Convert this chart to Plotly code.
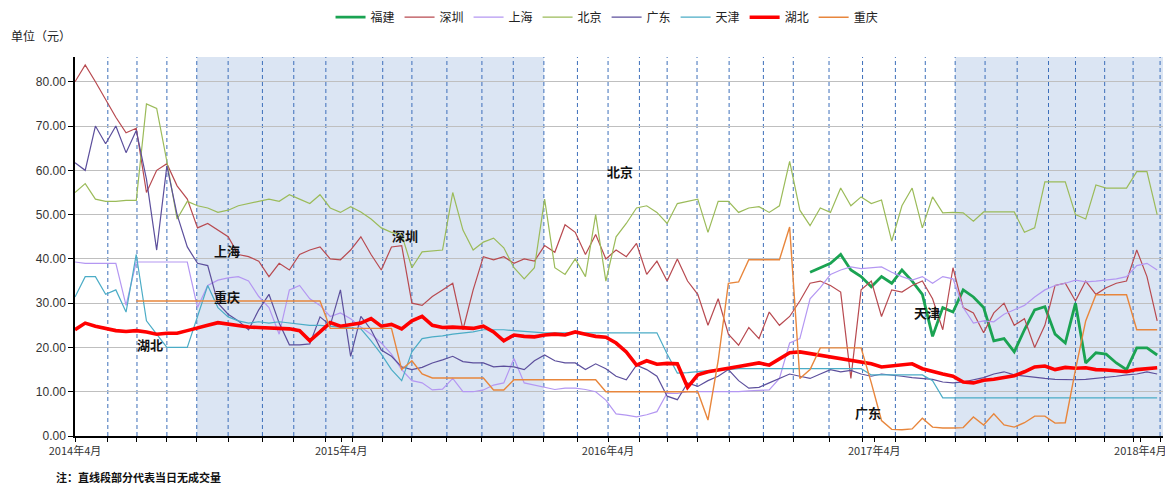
import pandas as pd
import plotly.graph_objects as go

# ---------------- data (14-day sampling) ----------------
START = "2014-04-01"
N_POINTS = 107
dates = pd.date_range(START, periods=N_POINTS, freq="14D")

fujian = [None] * 72 + [
    37.0, 38.0, 39.0, 41.0, 37.5, 36.0, 33.7, 36.0, 34.5, 37.5, 35.0, 32.0, 22.5, 29.0,
    28.0, 33.0, 31.4, 29.0, 21.5, 22.0, 19.0, 24.0, 28.5, 29.2, 23.0, 21.0, 30.0, 16.5,
    18.8, 18.5, 16.5, 15.0, 19.9, 19.9, 18.3]

shenzhen = [
    80.0, 83.8, 80.0, 76.0, 72.0, 68.5, 69.5, 55.0, 60.0, 61.5, 56.5, 53.5, 47.0, 48.0,
    46.5, 45.0, 41.0, 40.5, 39.5, 36.0, 39.0, 37.5, 41.0, 42.0, 42.7, 40.0, 39.8, 42.0,
    45.0, 41.0, 37.5, 42.7, 43.0, 30.0, 29.5, 31.5, 33.0, 34.5, 24.0, 33.0, 40.5, 39.8,
    40.5, 39.0, 40.0, 39.5, 43.0, 41.5, 47.7, 46.0, 41.0, 45.5, 40.0, 42.0, 40.5, 43.5,
    36.5, 39.5, 35.0, 40.0, 35.0, 32.0, 25.0, 31.0, 23.0, 20.5, 24.5, 22.0, 28.0, 25.0,
    27.0, 30.5, 34.5, 35.0, 34.0, 32.5, 13.0, 33.0, 35.0, 27.0, 33.0, 32.5, 34.0, 35.0,
    31.0, 24.0, 38.0, 29.0, 27.8, 23.3, 27.8, 30.0, 25.0, 26.5, 20.0, 25.0, 34.0, 34.5,
    30.5, 35.0, 32.0, 33.5, 34.5, 35.0, 42.0, 36.0, 26.0]

shanghai = [
    39.3, 39.0, 39.0, 39.0, 39.0, 29.5, 39.3, 39.3, 39.3, 39.3, 39.3, 39.3, 29.0, 34.0,
    35.2, 35.7, 36.0, 35.0, 31.5, 29.0, 23.0, 33.0, 34.0, 31.0, 29.5, 27.0, 27.8, 26.5,
    24.6, 23.0, 21.0, 18.5, 15.0, 12.5, 12.0, 10.4, 10.6, 13.0, 10.0, 10.0, 10.4, 11.5,
    12.0, 17.5, 12.0, 11.5, 11.0, 10.5, 10.8, 10.8, 10.5, 10.0, 8.1, 5.0, 4.7, 4.3,
    4.8, 5.5, 9.7, 9.6, 10.0, 10.0, 10.0, 10.0, 10.0, 10.0, 10.2, 10.3, 10.4, 13.0,
    21.0, 22.0, 31.0, 33.5, 36.5, 37.5, 38.2, 37.8, 38.0, 38.2, 37.0, 36.0, 35.2, 36.0,
    34.5, 36.0, 35.5, 29.0, 25.5, 26.0, 25.8, 27.5, 28.5, 29.5, 31.4, 33.0, 34.0, 34.5,
    35.2, 34.8, 35.0, 35.2, 35.5, 36.0, 38.5, 39.0, 37.5]

beijing = [
    55.0, 57.0, 53.5, 53.0, 53.0, 53.2, 53.2, 75.0, 74.0, 62.0, 49.0, 53.0, 52.0, 51.5,
    50.5, 51.0, 52.0, 52.5, 53.0, 53.5, 53.0, 54.5, 53.5, 52.5, 54.5, 51.5, 50.5, 51.8,
    50.6, 49.0, 47.0, 46.0, 45.5, 38.0, 41.6, 41.8, 42.0, 55.0, 46.5, 42.0, 43.8, 44.7,
    42.5, 38.0, 35.5, 38.0, 53.5, 38.0, 36.5, 40.0, 36.0, 50.0, 35.0, 45.0, 48.0, 51.5,
    52.0, 50.5, 48.0, 52.5, 53.0, 53.5, 46.0, 53.0, 53.0, 50.5, 51.5, 51.8, 50.5, 52.0,
    62.0, 51.0, 47.5, 51.5, 50.5, 56.0, 52.0, 54.0, 52.5, 53.3, 44.0, 52.0, 56.0, 47.0,
    54.0, 50.4, 50.5, 50.4, 48.5, 50.6, 50.6, 50.6, 50.6, 46.0, 47.0, 57.4, 57.4, 57.4,
    50.0, 49.0, 56.7, 56.0, 56.0, 56.0, 59.7, 59.7, 50.0]

guangdong = [
    61.7, 60.0, 70.0, 66.0, 70.0, 64.0, 69.0, 58.0, 42.0, 61.0, 50.0, 42.7, 39.0, 38.5,
    30.0, 27.5, 26.0, 24.0, 28.5, 32.0, 25.5, 20.6, 20.6, 20.8, 26.9, 25.0, 33.0, 18.0,
    27.0, 24.0, 19.4, 18.0, 15.6, 15.0, 15.5, 16.5, 17.2, 18.0, 16.8, 16.5, 16.5, 15.6,
    15.8, 15.6, 15.0, 17.0, 18.3, 17.0, 16.5, 16.5, 15.0, 16.3, 15.2, 13.5, 12.7, 16.0,
    15.0, 13.5, 9.0, 8.2, 12.0, 11.2, 12.5, 13.5, 15.0, 12.5, 10.8, 11.0, 12.0, 13.0,
    14.0, 13.5, 13.0, 14.0, 15.0, 14.5, 14.8, 14.0, 13.5, 14.0, 13.8, 13.5, 13.2, 13.0,
    12.8, 12.2, 12.0, 12.2, 12.7, 13.2, 14.0, 14.5, 13.8, 13.5, 13.2, 13.0, 12.8, 12.7,
    12.7, 12.8, 13.0, 13.2, 13.5, 13.8, 14.0, 14.5, 14.0]

tianjin = [
    31.4, 36.0, 36.0, 32.0, 33.0, 28.0, 41.0, 26.0, 23.0, 20.0, 20.0, 20.0, 27.0, 34.0,
    29.0, 26.9, 26.0, 25.5, 25.8, 25.5, 25.8, 25.5, 25.2, 25.0, 25.0, 24.8, 24.6, 24.5,
    24.2, 21.5, 18.5, 15.0, 12.5, 19.0, 22.0, 22.4, 22.6, 23.0, 23.3, 23.5, 24.0, 24.0,
    24.0, 23.8, 23.6, 23.4, 23.3, 23.3, 23.3, 23.3, 23.3, 23.3, 23.3, 23.3, 23.3, 23.3,
    23.3, 23.3, 18.5, 14.2, 14.3, 14.5, 14.8, 15.0, 15.0, 15.2, 15.2, 15.2, 15.2, 15.2,
    15.2, 15.2, 15.2, 15.2, 15.2, 15.2, 15.2, 15.2, 13.8, 13.8, 13.8, 13.8, 13.8, 13.8,
    12.5, 8.6, 8.6, 8.6, 8.6, 8.6, 8.6, 8.6, 8.6, 8.6, 8.6, 8.6, 8.6, 8.6,
    8.6, 8.6, 8.6, 8.6, 8.6, 8.6, 8.6, 8.6, 8.6]

hubei = [
    24.0, 25.5, 24.8, 24.2, 23.8, 23.6, 23.8, 23.5, 23.0, 23.2, 23.2, 23.8, 24.3, 25.0,
    25.6, 25.2, 24.8, 24.6, 24.5, 24.4, 24.3, 24.2, 23.8, 21.5, 23.5, 25.6, 24.8, 25.2,
    25.5, 26.5, 24.8, 25.2, 24.2, 26.0, 27.0, 25.0, 24.5, 24.6, 24.4, 24.3, 24.8, 23.5,
    21.5, 22.8, 22.5, 22.4, 22.8, 23.0, 22.8, 23.5, 23.0, 22.5, 22.3, 21.0, 19.0, 16.0,
    17.0, 16.2, 16.4, 16.3, 11.0, 13.8, 14.5, 15.0, 15.3, 15.7, 16.2, 16.5, 16.0, 17.5,
    18.8, 19.0, 18.6, 18.2, 17.8, 17.5, 17.0, 16.8, 16.3, 15.6, 15.8, 16.0, 16.3, 15.2,
    14.5, 14.0, 13.5, 12.2, 12.0, 12.6, 12.8, 13.2, 13.6, 14.5, 15.6, 15.8, 15.0, 15.5,
    15.3, 15.4, 15.0, 14.9, 14.8, 14.5, 15.0, 15.2, 15.4]

chongqing = [None] * 6 + [
    30.5, 30.5, 30.5, 30.5, 30.5, 30.5, 30.5, 30.5, 30.5, 30.5, 30.5, 30.5, 30.5, 30.5,
    30.5, 30.5, 30.5, 30.5, 30.5, 24.3, 24.3, 24.3, 24.3, 24.3, 24.3, 24.3, 15.0, 17.0,
    14.0, 13.1, 13.1, 13.1, 13.1, 13.1, 13.1, 10.4, 10.4, 12.7, 12.7, 12.7, 12.7, 12.7,
    12.7, 12.7, 12.7, 12.7, 10.0, 10.0, 10.0, 10.0, 10.0, 10.0, 10.0, 10.0, 10.0, 10.0,
    3.6, 17.0, 34.5, 34.8, 39.8, 39.8, 39.8, 39.8, 47.2, 13.0, 15.0, 19.9, 19.9, 19.9,
    19.9, 19.9, 12.0, 3.5, 1.5, 1.4, 1.6, 4.0, 2.0, 1.8, 1.8, 1.9, 4.3, 2.5,
    5.0, 2.5, 2.0, 3.0, 4.5, 4.5, 2.9, 3.0, 15.0, 26.0, 31.9, 31.9, 31.9, 31.9,
    24.0, 24.0, 24.0]

series_names = ["福建", "深圳", "上海", "北京", "广东", "天津", "湖北", "重庆"]
series_values = [fujian, shenzhen, shanghai, beijing, guangdong, tianjin, hubei, chongqing]

# event markers and shaded periods
dash_dates = ["2014-05-16", "2014-06-25", "2014-08-05", "2014-09-15", "2014-10-28",
              "2014-12-14", "2015-01-26", "2015-03-11", "2015-04-17", "2015-05-28",
              "2015-07-07", "2015-08-24", "2015-10-11", "2015-11-23", "2016-01-04",
              "2016-02-19", "2016-04-01", "2016-05-14", "2016-06-21", "2016-08-01",
              "2016-09-14", "2016-10-31", "2016-12-11", "2017-01-29", "2017-03-16",
              "2017-04-30", "2017-06-10", "2017-07-21", "2017-08-31", "2017-10-14",
              "2017-11-26", "2018-01-02", "2018-02-11", "2018-03-22", "2018-04-28"]
shade_starts = ["2014-09-15", "2017-07-21"]
shade_ends = ["2016-01-04", "2018-05-02"]

year_ticks = ["2014-04-01", "2015-04-01", "2016-04-01", "2017-04-01", "2018-04-01"]
year_labels = ["2014年4月", "2015年4月", "2016年4月", "2017年4月", "2018年4月"]
y_ticks = [0, 10, 20, 30, 40, 50, 60, 70, 80]

label_texts = ["北京", "深圳", "上海", "重庆", "湖北", "天津", "广东"]
label_x = ["2016-04-18", "2015-06-28", "2014-10-26", "2014-10-27", "2014-07-13",
           "2017-06-13", "2017-03-24"]
label_y = [59.7, 45.2, 42.0, 31.6, 20.6, 27.8, 5.4]

# ---------------- styling ----------------
colors = {"福建": "#1aa352", "深圳": "#b84a50", "上海": "#b497f2", "北京": "#9bbb59",
          "广东": "#5c4f9c", "天津": "#4bacc6", "湖北": "#ff0000", "重庆": "#e8863c"}
widths = {"福建": 2.8, "深圳": 1.2, "上海": 1.2, "北京": 1.2,
          "广东": 1.2, "天津": 1.2, "湖北": 3.6, "重庆": 1.4}

FONT = "Liberation Sans, Noto Sans CJK SC, sans-serif"
CJK = "Noto Sans CJK SC, sans-serif"

fig = go.Figure()
for name, vals in zip(series_names, series_values):
    fig.add_trace(go.Scatter(
        x=dates, y=vals, name=name, mode="lines",
        line=dict(color=colors[name], width=widths[name]),
        connectgaps=False,
    ))

shapes = []
for s, e in zip(shade_starts, shade_ends):
    shapes.append(dict(type="rect", xref="x", yref="paper", x0=s, x1=e, y0=0, y1=1,
                       fillcolor="#dbe5f3", line=dict(width=0), layer="below"))
for d in dash_dates:
    shapes.append(dict(type="line", xref="x", yref="paper", x0=d, x1=d, y0=0, y1=1,
                       line=dict(color="#3d6fba", width=1, dash="4px,3px"),
                       layer="between"))

annotations = []
for t, xx, yy in zip(label_texts, label_x, label_y):
    annotations.append(dict(x=xx, y=yy, xref="x", yref="y", text="<b>%s</b>" % t,
                            showarrow=False, font=dict(family=CJK, size=13, color="#111111")))
annotations.append(dict(x=-0.061, y=1.03, xref="paper", yref="paper", xanchor="left",
                        yanchor="bottom", text="单位（元）", showarrow=False,
                        font=dict(family=CJK, size=12, color="#222222")))
annotations.append(dict(x=-0.019, y=-0.108, xref="paper", yref="paper", xanchor="left",
                        yanchor="middle", text="<b>注：直线段部分代表当日无成交量</b>",
                        showarrow=False, font=dict(family=CJK, size=11, color="#111111")))

tickvals = year_ticks + dash_dates
ticktext = year_labels + [""] * len(dash_dates)

# the page body adds an 8px margin, so the figure is 8px smaller on each axis
fig.update_layout(
    width=1165, height=477,
    margin=dict(l=67, r=10, t=49, b=49, autoexpand=False),
    paper_bgcolor="white", plot_bgcolor="white",
    font=dict(family=FONT, size=11, color="#333333"),
    showlegend=True,
    legend=dict(orientation="h", x=0.489, xanchor="center", y=1.105, yanchor="middle",
                font=dict(family=CJK, size=12, color="#222222"), itemwidth=30,
                tracegroupgap=0, bgcolor="rgba(0,0,0,0)"),
    shapes=shapes,
    annotations=annotations,
    xaxis=dict(type="date", range=["2014-04-01", "2018-05-02"],
               tickvals=tickvals, ticktext=ticktext, ticks="outside", ticklen=4,
               tickcolor="#000000", showgrid=False, showline=True, linecolor="#000000",
               linewidth=1.5, zeroline=False, automargin=False,
               tickfont=dict(family=CJK, size=11, color="#333333")),
    yaxis=dict(range=[0, 85.6], tickvals=y_ticks, tickformat=".2f", ticks="outside",
               ticklen=5, tickcolor="#000000", showgrid=True, gridcolor="#bfbfbf",
               gridwidth=1, showline=True, linecolor="#000000", linewidth=1.5,
               zeroline=False, automargin=False,
               tickfont=dict(family="Liberation Sans, Arial, sans-serif", size=12,
                             color="#333333"),
               tickprefix="<b>", ticksuffix="</b>"),
)

fig.write_html("out.html")
